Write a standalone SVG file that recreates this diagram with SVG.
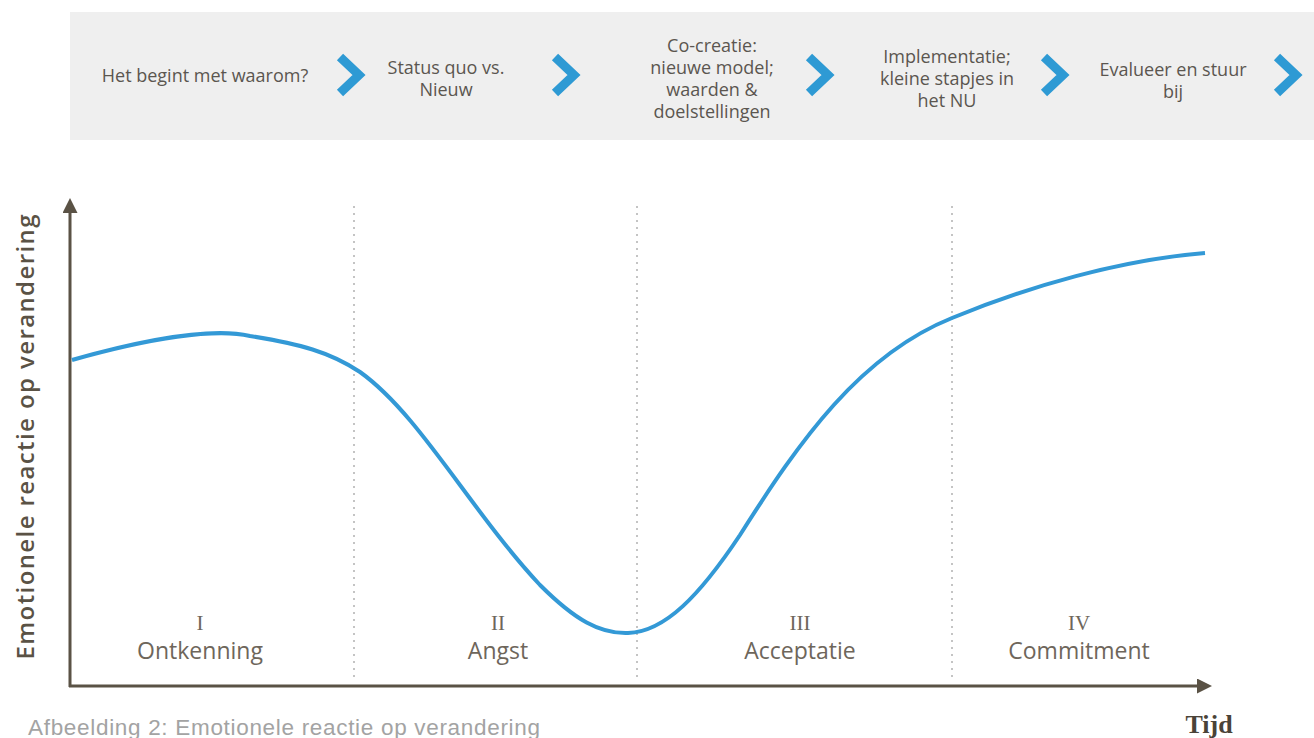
<svg xmlns="http://www.w3.org/2000/svg" width="1314" height="738" viewBox="0 0 1314 738">
<style>
.step{font-family:"Open Sans","Liberation Sans",sans-serif;font-size:18px;fill:#5b5650;text-anchor:middle}
.chev{fill:none;stroke:#2e9ad4;stroke-width:9;stroke-linejoin:miter}
.phase{font-family:"Open Sans","Liberation Sans",sans-serif;font-size:23px;fill:#6e665b;text-anchor:middle}
.roman{font-family:"Liberation Serif",serif;font-size:21px;fill:#6e665b;text-anchor:middle}
.axis{stroke:#5a5245;stroke-width:3;fill:none}
.div{stroke:#c4c4c4;stroke-width:2;stroke-dasharray:2 5;fill:none}
</style>
<defs>
<marker id="ah" viewBox="0 0 10 10" refX="2" refY="5" markerWidth="5" markerHeight="5" orient="auto" markerUnits="strokeWidth">
<path d="M0,0 L10,5 L0,10 z" fill="#5a5245"/>
</marker>
</defs>
<rect width="1314" height="738" fill="#ffffff"/>
<g id="band">
<rect x="70" y="12" width="1244" height="128" fill="#efefef"/>
</g>
<g id="step1"><text class="step" x="205" y="82">Het begint met waarom?</text></g>
<g id="step2"><text class="step" x="446" y="74">Status quo vs.</text><text class="step" x="446" y="96">Nieuw</text></g>
<g id="step3"><text class="step" x="712" y="52">Co-creatie:</text><text class="step" x="712" y="74">nieuwe model;</text><text class="step" x="712" y="96">waarden &amp;</text><text class="step" x="712" y="118">doelstellingen</text></g>
<g id="step4"><text class="step" x="947" y="63">Implementatie;</text><text class="step" x="947" y="85">kleine stapjes in</text><text class="step" x="947" y="107">het NU</text></g>
<g id="step5"><text class="step" x="1173" y="76">Evalueer en stuur</text><text class="step" x="1173" y="98">bij</text></g>
<g id="connectors">
<polyline class="chev" points="340,57 359,75 340,93"/>
<polyline class="chev" points="555,57 574,75 555,93"/>
<polyline class="chev" points="809,57 828,75 809,93"/>
<polyline class="chev" points="1044,57 1063,75 1044,93"/>
<polyline class="chev" points="1277,57 1296,75 1277,93"/>
<line class="div" x1="354" y1="206" x2="354" y2="680"/>
<line class="div" x1="637" y1="206" x2="637" y2="680"/>
<line class="div" x1="952" y1="206" x2="952" y2="680"/>
<line class="axis" x1="70" y1="687" x2="70" y2="210" marker-end="url(#ah)"/>
<line class="axis" x1="69" y1="686" x2="1200" y2="686" marker-end="url(#ah)"/>
<path d="M72,360 C150,338 215,328 250,336 C300,344 330,352 360,372 C420,415 470,510 540,585 C575,620 600,634 628,633 C665,632 700,595 740,535 C800,440 860,355 952,318 C1030,286 1120,260 1205,253" fill="none" stroke="#3399d6" stroke-width="4"/>
</g>
<g id="ylabel"><text x="0" y="0" transform="translate(34,437) rotate(-90)" font-family="'Open Sans','Liberation Sans',sans-serif" font-size="24" font-weight="600" fill="#5a5245" text-anchor="middle" textLength="445">Emotionele reactie op verandering</text></g>
<g id="phase1"><text class="roman" x="200" y="630">I</text><text class="phase" x="200" y="659">Ontkenning</text></g>
<g id="phase2"><text class="roman" x="498" y="630">II</text><text class="phase" x="498" y="659">Angst</text></g>
<g id="phase3"><text class="roman" x="800" y="630">III</text><text class="phase" x="800" y="659">Acceptatie</text></g>
<g id="phase4"><text class="roman" x="1079" y="630">IV</text><text class="phase" x="1079" y="659">Commitment</text></g>
<g id="tijd"><text x="1209" y="733" font-family="'Liberation Serif',serif" font-size="26" font-weight="bold" fill="#4a4338" text-anchor="middle">Tijd</text></g>
<g id="caption"><text x="28" y="735" font-family="'Liberation Sans',Arial,sans-serif" font-size="22.5" fill="#a3a3a3" textLength="512">Afbeelding 2: Emotionele reactie op verandering</text></g>
</svg>
